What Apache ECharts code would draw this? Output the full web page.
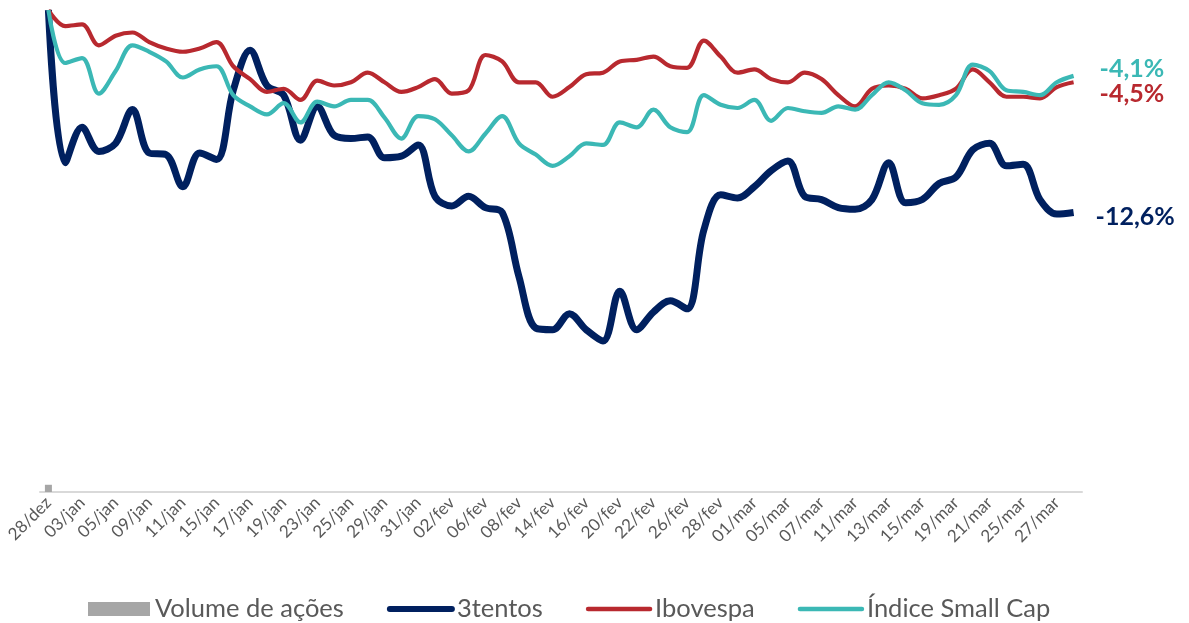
<!DOCTYPE html>
<html>
<head>
<meta charset="utf-8">
<script src="https://cdn.jsdelivr.net/npm/echarts@6/dist/echarts.min.js"></script>
<style>
html,body{margin:0;padding:0;background:#fff;}
#chart{width:1189px;height:623px;}
</style>
</head>
<body>
<div id="chart"></div>
<script>
var categories = ['28/dez','02/jan','03/jan','04/jan','05/jan','08/jan','09/jan','10/jan','11/jan','12/jan',
  '15/jan','16/jan','17/jan','18/jan','19/jan','22/jan','23/jan','24/jan','25/jan','26/jan',
  '29/jan','30/jan','31/jan','01/fev','02/fev','05/fev','06/fev','07/fev','08/fev','09/fev',
  '14/fev','15/fev','16/fev','19/fev','20/fev','21/fev','22/fev','23/fev','26/fev','27/fev',
  '28/fev','29/fev','01/mar','04/mar','05/mar','06/mar','07/mar','08/mar','11/mar','12/mar',
  '13/mar','14/mar','15/mar','18/mar','19/mar','20/mar','21/mar','22/mar','25/mar','26/mar',
  '27/mar','28/mar'];

var volume = [1.5,0,0,0,0,0,0,0,0,0,0,0,0,0,0,0,0,0,0,0,0,0,0,0,0,0,0,0,0,0,0,0,0,0,0,0,0,0,0,0,0,0,0,0,0,0,0,0,0,0,0,0,0,0,0,0,0,0,0,0,0,0];

var tentos = [0, -9.5, -7.3, -8.8, -8.3, -6.2, -8.9, -9.0, -11.0, -8.9,
  -9.3, -5.0, -2.5, -4.7, -5.3, -8.1, -6.0, -7.8, -8.0, -7.9,
  -9.2, -9.1, -8.4, -11.6, -12.2, -11.6, -12.3, -12.6, -16.6, -19.8,
  -19.9, -18.9, -19.9, -20.6, -17.5, -19.9, -18.8, -18.1, -18.6, -13.7,
  -11.5, -11.7, -11.0, -10.0, -9.4, -11.6, -11.8, -12.3, -12.4, -11.8,
  -9.5, -12.0, -11.8, -10.8, -10.4, -8.7, -8.3, -9.7, -9.6, -11.8,
  -12.7, -12.6];

var ibovespa = [0, -1.0, -0.9, -2.2, -1.6, -1.4, -2.0, -2.4, -2.6, -2.4,
  -2.0, -3.5, -4.3, -5.1, -4.9, -5.6, -4.4, -4.7, -4.5, -3.9,
  -4.5, -5.1, -4.8, -4.3, -5.2, -5.0, -2.8, -3.2, -4.5, -4.5,
  -5.4, -4.8, -4.0, -3.9, -3.2, -3.1, -2.9, -3.5, -3.6, -1.9,
  -2.9, -3.9, -3.7, -4.3, -4.5, -3.9, -4.3, -5.3, -6.0, -4.9,
  -4.7, -4.9, -5.5, -5.3, -4.9, -3.7, -4.5, -5.4, -5.4, -5.5,
  -4.8, -4.5];

var smallCap = [0, -3.3, -3.0, -5.2, -3.8, -2.2, -2.6, -3.2, -4.2, -3.7,
  -3.5, -5.3, -6.0, -6.5, -5.8, -7.0, -5.7, -6.0, -5.6, -5.6,
  -6.7, -8.0, -6.6, -6.8, -7.8, -8.8, -7.7, -6.6, -8.3, -9.0,
  -9.7, -9.1, -8.3, -8.4, -7.0, -7.3, -6.2, -7.3, -7.6, -5.3,
  -5.9, -6.1, -5.6, -6.9, -6.1, -6.3, -6.4, -6.0, -6.2, -5.3,
  -4.5, -5.0, -5.8, -5.9, -5.3, -3.4, -3.8, -5.0, -5.1, -5.3,
  -4.5, -4.1];

var names = ['Volume de ações', '3tentos', 'Ibovespa', 'Índice Small Cap'];
var colors = { gray: '#a6a6a6', navy: '#00205f', red: '#b8292f', teal: '#3bb8b5' };
var FONT = 'Lato, "Open Sans", sans-serif';

function fmt(p) {
  return p.value.toFixed(1).replace('.', ',') + '%';
}

var chart = echarts.init(document.getElementById('chart'), null, { renderer: 'canvas' });
chart.setOption({
  animation: false,
  backgroundColor: '#ffffff',
  textStyle: { fontFamily: FONT },
  grid: { left: 40, right: 107, top: 10, bottom: 131, containLabel: false },
  legend: {
    left: 83,
    top: 591,
    itemWidth: 62,
    itemHeight: 14,
    itemGap: 43,
    textStyle: { fontSize: 25.5, color: '#595959', fontFamily: FONT },
    data: [
      { name: names[0], icon: 'rect' },
      { name: names[1], itemStyle: { opacity: 0 }, lineStyle: { width: 6, cap: 'round' } },
      { name: names[2], itemStyle: { opacity: 0 }, lineStyle: { width: 4.5, cap: 'round' } },
      { name: names[3], itemStyle: { opacity: 0 }, lineStyle: { width: 4.5, cap: 'round' } }
    ]
  },
  xAxis: {
    type: 'category',
    data: categories,
    boundaryGap: true,
    axisLine: { show: true, onZero: false, lineStyle: { color: '#d9d9d9', width: 2 } },
    axisTick: { show: false },
    axisLabel: {
      interval: 1,
      rotate: 45,
      margin: 8,
      fontSize: 17,
      color: '#595959',
      fontFamily: FONT
    },
    splitLine: { show: false }
  },
  yAxis: [
    { type: 'value', min: -30, max: 0, show: false, splitLine: { show: false } },
    { type: 'value', min: 0, max: 100, show: false, splitLine: { show: false } }
  ],
  series: [
    {
      name: names[0], type: 'bar', yAxisIndex: 1, data: volume,
      barWidth: 7, itemStyle: { color: colors.gray }
    },
    {
      name: names[1], type: 'line', data: tentos, smooth: 0.35,
      symbol: 'none', showSymbol: false,
      lineStyle: { color: colors.navy, width: 7 }, itemStyle: { color: colors.navy },
      endLabel: { show: true, formatter: fmt, color: colors.navy, fontSize: 25, fontWeight: 'bold',
        fontFamily: FONT, distance: 22, offset: [0, 4] }
    },
    {
      name: names[2], type: 'line', data: ibovespa, smooth: 0.35,
      symbol: 'none', showSymbol: false,
      lineStyle: { color: colors.red, width: 4.2 }, itemStyle: { color: colors.red },
      endLabel: { show: true, formatter: fmt, color: colors.red, fontSize: 25, fontWeight: 'bold',
        fontFamily: FONT, distance: 26, offset: [0, 12] }
    },
    {
      name: names[3], type: 'line', data: smallCap, smooth: 0.35,
      symbol: 'none', showSymbol: false,
      lineStyle: { color: colors.teal, width: 4.2 }, itemStyle: { color: colors.teal },
      endLabel: { show: true, formatter: fmt, color: colors.teal, fontSize: 25, fontWeight: 'bold',
        fontFamily: FONT, distance: 26, offset: [0, -7] }
    }
  ]
});
</script>
</body>
</html>
